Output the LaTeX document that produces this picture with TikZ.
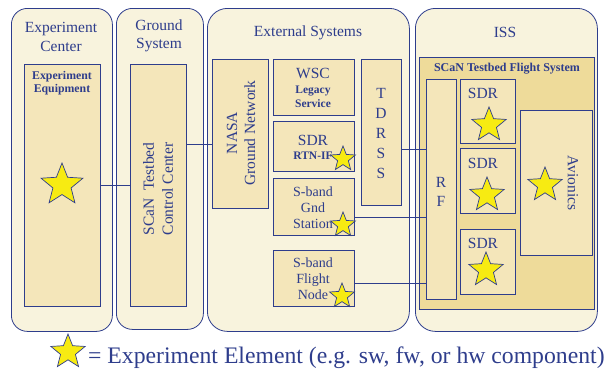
\documentclass[tikz,border=0pt]{standalone}
\usepackage{fontspec}
\setmainfont{Liberation Serif}
\usetikzlibrary{shapes.geometric}
\definecolor{ink}{HTML}{2E3D8C}
\definecolor{outerfill}{HTML}{F8F3DD}
\definecolor{innerfill}{HTML}{F4E6BA}
\definecolor{fsfill}{HTML}{EEDB9A}
\definecolor{staryellow}{HTML}{F7EB12}
\begin{document}
\begin{tikzpicture}[x=1pt,y=-1pt,
 container/.style={draw=ink, fill=outerfill, rounded corners=16pt, line width=0.8pt, anchor=north west, inner sep=0},
 box/.style={draw=ink, fill=innerfill, line width=0.7pt, anchor=north west, inner sep=0},
 lbl/.style={text=ink, align=center, inner sep=0, font=\fontsize{15.5}{18.5}\selectfont},
 slbl/.style={text=ink, align=center, inner sep=0, font=\fontsize{14}{16}\selectfont},
 blbl/.style={text=ink, align=center, inner sep=0, font=\bfseries\fontsize{11.5}{14}\selectfont},
 estar/.style={star, star points=5, star point ratio=2.3, draw=ink, fill=staryellow, line width=0.7pt, inner sep=0},
 link/.style={draw=ink, line width=0.7pt}]
\useasboundingbox (0,0) rectangle (608,368);
% containers
\node[container, minimum width=101pt, minimum height=323pt] (expc) at (11,8) {};
\node[container, minimum width=87pt, minimum height=321pt] (gsys) at (116,8) {};
\node[container, minimum width=202pt, minimum height=323pt, rounded corners=20pt] (exts) at (207,8) {};
\node[container, minimum width=182pt, minimum height=323pt, rounded corners=20pt] (iss) at (415,8) {};
% inner boxes
\node[box, minimum width=76pt, minimum height=242pt] (ee) at (24,64) {};
\node[box, minimum width=56pt, minimum height=242pt] (cc) at (130,64) {};
\node[box, minimum width=56pt, minimum height=149pt] (nasa) at (212,59) {};
\node[box, minimum width=81pt, minimum height=56pt] (wsc) at (273,59) {};
\node[box, minimum width=81pt, minimum height=50pt] (sdrx) at (273,121) {};
\node[box, minimum width=81pt, minimum height=57pt] (gnd) at (273,178) {};
\node[box, minimum width=81pt, minimum height=56pt] (fnode) at (273,250) {};
\node[box, minimum width=40pt, minimum height=146pt] (tdrss) at (361,59) {};
\node[box, fill=fsfill, minimum width=175pt, minimum height=252pt] (fs) at (419,57) {};
\node[box, minimum width=30pt, minimum height=220pt] (rf) at (426,79) {};
\node[box, minimum width=55pt, minimum height=64pt] (sdr1) at (460,79) {};
\node[box, minimum width=55pt, minimum height=65pt] (sdr2) at (460,148) {};
\node[box, minimum width=55pt, minimum height=65pt] (sdr3) at (460,229) {};
\node[box, minimum width=72pt, minimum height=145pt] (avi) at (520,110) {};
% connectors
\coordinate (y144) at (0,144);
\coordinate (y149) at (0,149);
\coordinate (y217) at (0,217);
\coordinate (y283) at (0,283);
\draw[link] (ee.east) -- (cc.west);
\draw[link] (cc.east |- y144) -- (nasa.west |- y144);
\draw[link] (tdrss.east |- y149) -- (rf.west |- y149);
\draw[link] (gnd.east |- y217) -- (rf.west |- y217);
\draw[link] (fnode.east |- y283) -- (rf.west |- y283);
% labels
\node[lbl] (t1) at (61,37) {Experiment\\Center};
\node[lbl] (t2) at (159,36) {Ground\\System};
\node[lbl] (t3) at (308,33) {External Systems};
\node[lbl] (t4) at (505,32) {ISS};
\node[blbl, font=\bfseries\fontsize{11.8}{13.5}\selectfont] (t5) at (62,83) {Experiment\\Equipment};
\node[lbl, rotate=90, font=\fontsize{15.5}{19}\selectfont] (t6) at (158,189) {SCaN\ \ Testbed\\Control Center};
\node[lbl, rotate=90, font=\fontsize{15.5}{18}\selectfont] (t7) at (241,133) {NASA\\Ground Network};
\node[lbl] (t8) at (313,73) {WSC};
\node[blbl] (t9) at (313,97) {Legacy\\Service};
\node[lbl] (t10) at (313,140) {SDR};
\node[blbl] (t11) at (313,156) {RTN-IF};
\node[slbl] (t12) at (313,208) {S-band\\Gnd\\Station};
\node[slbl] (t13) at (313,279) {S-band\\Flight\\Node};
\node[lbl, font=\fontsize{15.5}{20}\selectfont] (t14) at (381,133) {T\\D\\R\\S\\S};
\node[blbl, font=\bfseries\fontsize{12}{14}\selectfont] (t15) at (507,69) {SCaN Testbed Flight System};
\node[lbl, font=\fontsize{15.5}{19}\selectfont] (t16) at (441,192) {R\\F};
\node[lbl] (t17) at (483,93) {SDR};
\node[lbl] (t18) at (483,163) {SDR};
\node[lbl] (t19) at (483,243) {SDR};
\node[lbl, rotate=-90] (t20) at (573,183) {Avionics};
% stars
\node[estar, minimum size=44pt] (s1) at (62,185) {};
\node[estar, minimum size=36pt] (s2) at (489,125) {};
\node[estar, minimum size=36pt] (s3) at (487,195) {};
\node[estar, minimum size=36pt] (s4) at (486,270) {};
\node[estar, minimum size=36pt] (s5) at (545,185) {};
\node[estar, minimum size=26pt] (s6) at (343,159) {};
\node[estar, minimum size=26pt] (s7) at (343,225) {};
\node[estar, minimum size=26pt] (s8) at (342,296) {};
% legend
\node[estar, minimum size=36pt] (ls) at (68,352) {};
\node[text=ink, anchor=base west, inner sep=0, font=\fontsize{23.7}{28}\selectfont] (lt) at (88,363) {= Experiment Element (e.g. sw, fw, or hw component)};
\end{tikzpicture}
\end{document}
